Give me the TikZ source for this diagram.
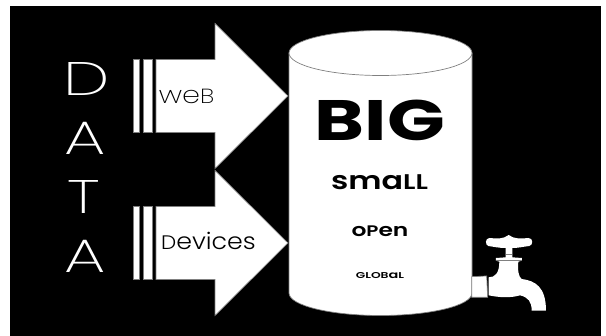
\documentclass[tikz,border=0pt]{standalone}
\usepackage{graphicx}
\usepackage{fontspec}
\setmainfont{Poppins}
\newfontfamily\thinfont{Poppins ExtraLight}
\newfontfamily\lightfont{Poppins Light}
\newfontfamily\midfont{Poppins SemiBold}
\newfontfamily\heavyfont{Poppins Bold}
\newcommand{\lowcap}[1]{\scalebox{0.85}{#1}}
\tikzset{
	pipe/.style = {fill=white,draw=gray,line width=0.7pt},
	letter/.style = {text=white,inner sep=0pt,anchor=center,transform shape,xscale=1.4,font=\thinfont\fontsize{47}{47}\selectfont},
	tag/.style = {text=black,inner sep=0pt,anchor=center,transform shape},
}
\begin{document}
\begin{tikzpicture}[x=1pt,y=-1pt]
	\useasboundingbox (0,0) rectangle (606,336);
	\fill[white] (0,0) rectangle (606,336);
	\fill[black] (10,6) rectangle (601,336);
	% arrows
	\foreach \cy in {96,243} {
		\draw[pipe] (156,\cy-36.5) -- (215,\cy-36.5) -- (215,\cy-72.5) -- (288,\cy) -- (215,\cy+72.5) -- (215,\cy+36.5) -- (156,\cy+36.5) -- cycle;
		\draw[pipe] (133.5,\cy-36.5) rectangle (139,\cy+36.5);
		\draw[pipe] (143,\cy-36.5) rectangle (152,\cy+36.5);
	}
	% drum
	\draw[pipe] (289,53) -- (289,293) arc[start angle=180,end angle=360,x radius=91.5,y radius=-22.5] -- (472,53);
	\draw[pipe] (380.5,53) ellipse[x radius=91.5,y radius=22.5];
	% tap
	\begin{scope}[shift={(440,220)},x=0.3333pt,y=-0.3333pt]
		\draw[pipe] (95,170) -- (140,168) -- (143,232) -- (95,232) -- cycle;
		\fill[white] (146,172) .. controls (165,172) and (178,160) .. (178,125) -- (168,122) -- (168,114) -- (197,112) -- (197,84)
			.. controls (175,84) and (160,80) .. (145,78) .. controls (135,75) and (135,55) .. (148,54)
			.. controls (170,56) and (190,58) .. (206,45) .. controls (222,58) and (245,56) .. (266,54)
			.. controls (280,55) and (280,75) .. (268,78) .. controls (250,80) and (235,84) .. (217,84)
			-- (217,112) -- (246,114) -- (246,122) -- (235,125) .. controls (233,150) and (235,170) .. (245,177)
			.. controls (285,182) and (318,200) .. (318,272) -- (275,272) .. controls (275,245) and (265,232) .. (240,226)
			.. controls (210,235) and (175,232) .. (146,226) -- cycle;
		\draw[gray,line width=0.5pt] (168,122) -- (246,122);
		\draw[gray,line width=0.5pt] (197,104) -- (217,104);
	\end{scope}
	% labels
	\node[letter] (d1) at (87,79.5) {D};
	\node[letter] (a1) at (85.5,138) {A};
	\node[letter] (t1) at (83.5,197.5) {T};
	\node[letter] (a2) at (85.5,256.5) {A};
	\node[tag,xscale=1.2,font=\thinfont\fontsize{24}{24}\selectfont] (web) at (186.5,96) {we\lowcap{B}};
	\node[tag,xscale=1.1,font=\lightfont\fontsize{23}{23}\selectfont] (devices) at (208.5,241) {\lowcap{D}evices};
	\node[tag,xscale=1.33,font=\heavyfont\fontsize{57}{57}\selectfont] (big) at (380,120) {BIG};
	\node[tag,xscale=1.27,font=\midfont\fontsize{25}{25}\selectfont] (small) at (379.5,182) {sma\lowcap{LL}};
	\node[tag,xscale=1.3,font=\midfont\fontsize{18}{18}\selectfont] (open) at (380,231) {o\lowcap{P}en};
	\node[tag,xscale=1.45,font=\midfont\fontsize{10}{10}\selectfont] (global) at (380,275.5) {\lowcap{GLOB}a\lowcap{L}};
\end{tikzpicture}
\end{document}
